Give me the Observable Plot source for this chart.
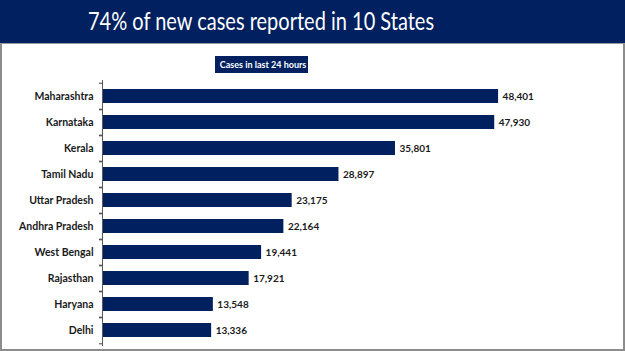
<!DOCTYPE html>
<html>
<head>
<meta charset="utf-8">
<script src="https://cdn.jsdelivr.net/npm/d3@7"></script>
<script src="https://cdn.jsdelivr.net/npm/@observablehq/plot@0.6"></script>
<style>
  html, body { margin: 0; padding: 0; background: #fff; }
  #wrap { position: relative; width: 625px; height: 351px; overflow: hidden; background: #fff; }
  #banner { position: absolute; left: 0; top: 0; width: 625px; height: 43px; background: #002060;
    border-bottom: 1px solid #9a9a9a; color: #fff; font-family: Lato, "Open Sans", sans-serif;
    font-size: 25px; line-height: 41px; }
  #banner span { position: absolute; left: 261px; transform: translateX(-50%) scaleX(0.8); white-space: nowrap; top: 0; }
  #panel { position: absolute; left: 0; top: 44px; width: 625px; height: 307px; box-sizing: border-box;
    border-left: 2px solid #8c8c8c; border-right: 2px solid #8c8c8c; border-bottom: 2px solid #8c8c8c; }
  #sub { position: absolute; left: 215px; top: 56px; width: 93px; height: 17px; background: #002060; color: #fff;
    font-family: Lato, sans-serif; font-weight: bold; font-size: 10px; line-height: 17px; text-align: center; white-space: nowrap; }
  #sub span { display: inline-block; transform: scaleX(0.9); }
  #chart { position: absolute; left: 0; top: 44px; }
</style>
</head>
<body>
<div id="wrap">
  <div id="banner"><span>74% of new cases reported in 10 States</span></div>
  <div id="panel"></div>
  <div id="sub"><span>Cases in last 24 hours</span></div>
  <div id="chart"></div>
</div>
<script>
const states = ["Maharashtra", "Karnataka", "Kerala", "Tamil Nadu", "Uttar Pradesh",
  "Andhra Pradesh", "West Bengal", "Rajasthan", "Haryana", "Delhi"];
const cases = [48401, 47930, 35801, 28897, 23175, 22164, 19441, 17921, 13548, 13336];

const data = states.map((s, i) => ({state: s, cases: cases[i]}));

const H = 307, mTop = 36, mBottom = 5;
const step = (H - mTop - mBottom) / states.length;
const fmt = d3.format(",");

const chart = Plot.plot({
  width: 625,
  height: H,
  marginLeft: 102,
  marginRight: 32,
  marginTop: mTop,
  marginBottom: mBottom,
  style: {fontFamily: "Lato, sans-serif", fontSize: "10px", color: "#1a1a1a", background: "transparent"},
  x: {domain: [0, 60000], axis: null},
  y: {domain: states, paddingInner: 0.47, paddingOuter: 0.235, axis: null, label: null},
  marks: [
    Plot.barX(data, {x: "cases", y: "state", fill: "#002060"}),
    Plot.ruleX([0], {stroke: "#595959", strokeWidth: 1}),
    Plot.axisY({tickSize: 3, tickFormat: () => "", label: null, dy: -step / 2, stroke: "#404040"}),
    Plot.axisY({tickSize: 3, tickFormat: () => "", label: null, dy: step / 2, stroke: "#404040"}),
    Plot.axisY({tickSize: 0, tickPadding: 9, label: null, fontWeight: "bold", fontSize: 10.5, fill: "#1a1a1a"}),
    Plot.text(data, {x: "cases", y: "state", text: d => fmt(d.cases), textAnchor: "start", dx: 4,
      fontWeight: "bold", fontSize: 10, fill: "#1a1a1a"})
  ]
});
document.getElementById("chart").appendChild(chart);
</script>
</body>
</html>
